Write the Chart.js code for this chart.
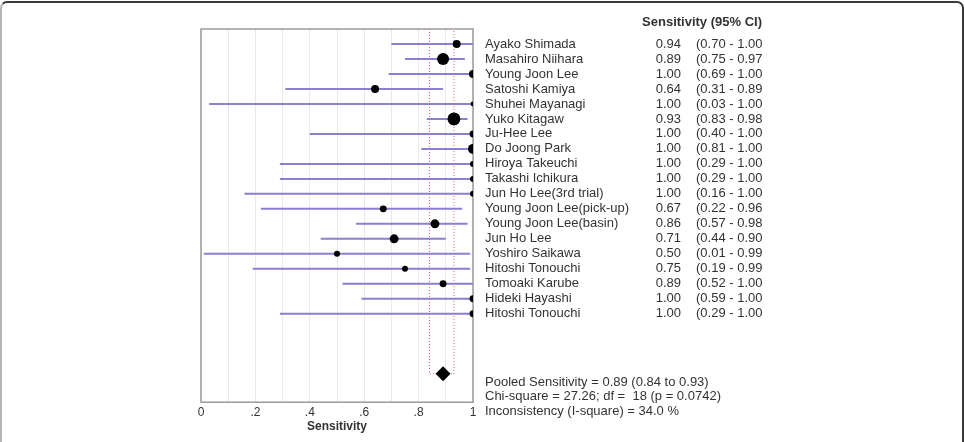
<!DOCTYPE html>
<html>
<head>
<meta charset="utf-8">
<script src="https://cdn.jsdelivr.net/npm/chart.js@4/dist/chart.umd.min.js"></script>
<style>
    html, body { margin: 0; padding: 0; background: #fff; overflow: hidden; }
    #wrap { position: relative; width: 965px; height: 442px; }
    #grafico { position: absolute; left: 0; top: 0; }
    #moldura {
        position: absolute; left: 0; top: 1px; width: 960px; height: 470px;
        border: 2px solid #3a3a3a; border-left-color: #b5b5b5; border-radius: 7px;
        pointer-events: none;
    }
</style>
</head>
<body>
<div id="wrap">
    <canvas id="grafico" width="965" height="442"></canvas>
    <div id="moldura"></div>
</div>
<script>
// Dados dos estudos
const estudos = ['Ayako Shimada', 'Masahiro Niihara', 'Young Joon Lee', 'Satoshi Kamiya', 'Shuhei Mayanagi',
    'Yuko Kitagaw', 'Ju-Hee Lee', 'Do Joong Park', 'Hiroya Takeuchi', 'Takashi Ichikura',
    'Jun Ho Lee(3rd trial)', 'Young Joon Lee(pick-up)', 'Young Joon Lee(basin)', 'Jun Ho Lee',
    'Yoshiro Saikawa', 'Hitoshi Tonouchi', 'Tomoaki Karube', 'Hideki Hayashi', 'Hitoshi Tonouchi'];
const sensibilidade = [0.94, 0.89, 1.00, 0.64, 1.00, 0.93, 1.00, 1.00, 1.00, 1.00, 1.00, 0.67, 0.86, 0.71, 0.50, 0.75, 0.89, 1.00, 1.00];
const icInferior = [0.70, 0.75, 0.69, 0.31, 0.03, 0.83, 0.40, 0.81, 0.29, 0.29, 0.16, 0.22, 0.57, 0.44, 0.01, 0.19, 0.52, 0.59, 0.29];
const icSuperior = [1.00, 0.97, 1.00, 0.89, 1.00, 0.98, 1.00, 1.00, 1.00, 1.00, 1.00, 0.96, 0.98, 0.90, 0.99, 0.99, 1.00, 1.00, 1.00];
// peso relativo de cada estudo (estimado pelo tamanho do marcador)
const pesos = [16, 36, 16, 16, 6, 42, 12, 25, 9, 9, 9, 12, 20, 20, 9, 9, 12, 12, 12];

const pooled = 0.89;
const pooledInf = 0.84;
const pooledSup = 0.93;
const linhaPooled = 22;
const textosPooled = [
    'Pooled Sensitivity = 0.89 (0.84 to 0.93)',
    'Chi-square = 27.26; df =  18 (p = 0.0742)',
    'Inconsistency (I-square) = 34.0 %'
];

// Função para formatar os ticks do eixo x
function formatarTick(v) {
    const d = Math.round(v * 10);
    if (d % 2 !== 0) return '';
    if (d === 0) return '0';
    if (d === 10) return '1';
    return '.' + d;
}

// Segmentos dos intervalos de confiança (quebrados com null)
const segmentos = [];
estudos.forEach((nome, i) => {
    segmentos.push({ x: icInferior[i], y: i });
    segmentos.push({ x: icSuperior[i], y: i });
    segmentos.push({ x: icSuperior[i], y: null });
});

const pontos = sensibilidade.map((s, i) => ({ x: s, y: i }));

const fonte = '"Liberation Sans", Arial, sans-serif';

// Plugin para moldura do gráfico e textos da direita
const textosPlugin = {
    id: 'textos',
    beforeDatasetsDraw(chart) {
        const { ctx, chartArea } = chart;
        ctx.save();
        ctx.strokeStyle = '#9a9a9a';
        ctx.lineWidth = 1.5;
        ctx.strokeRect(chartArea.left, chartArea.top, chartArea.right - chartArea.left, chartArea.bottom - chartArea.top);
        ctx.restore();
    },
    afterDraw(chart) {
        const { ctx } = chart;
        const y = chart.scales.y;
        ctx.save();
        ctx.fillStyle = '#333';
        ctx.textBaseline = 'middle';
        ctx.font = 'bold 13px ' + fonte;
        ctx.textAlign = 'right';
        ctx.fillText('Sensitivity (95% CI)', 762, 22);

        ctx.font = '13px ' + fonte;
        estudos.forEach((nome, i) => {
            const py = y.getPixelForValue(i);
            ctx.textAlign = 'left';
            ctx.fillText(nome, 485, py);
            ctx.textAlign = 'right';
            ctx.fillText(sensibilidade[i].toFixed(2), 681, py);
            ctx.textAlign = 'left';
            ctx.fillText('(' + icInferior[i].toFixed(2) + ' - ' + icSuperior[i].toFixed(2), 696, py);
        });

        ctx.textAlign = 'left';
        textosPooled.forEach((t, k) => {
            ctx.fillText(t, 485, 382 + k * 14.5);
        });
        ctx.restore();
    }
};

const ctx = document.getElementById('grafico').getContext('2d');
new Chart(ctx, {
    type: 'scatter',
    data: {
        datasets: [
            {
                label: 'IC pooled',
                data: [
                    { x: pooledInf, y: -1 }, { x: pooledInf, y: linhaPooled },
                    { x: pooledSup, y: linhaPooled }, { x: pooledSup, y: -1 }
                ],
                showLine: true,
                borderColor: '#dc5c78',
                borderWidth: 1,
                borderDash: [1, 2],
                pointRadius: 0,
                order: 3
            },
            {
                label: 'IC 95%',
                data: segmentos,
                showLine: true,
                spanGaps: false,
                borderColor: '#8a80d2',
                borderWidth: 2,
                pointRadius: 0,
                order: 2
            },
            {
                label: 'Sensibilidade',
                data: pontos,
                backgroundColor: '#000',
                borderColor: '#000',
                pointRadius: pesos.map(w => Math.sqrt(w)),
                borderWidth: 0,
                order: 1
            },
            {
                label: 'Pooled',
                data: [{ x: pooled, y: linhaPooled }],
                pointStyle: 'rectRot',
                backgroundColor: '#000',
                borderColor: '#000',
                pointRadius: 7.5,
                borderWidth: 0,
                order: 0
            }
        ]
    },
    options: {
        responsive: false,
        animation: false,
        layout: { padding: { left: 201, right: 492, top: 29, bottom: 0 } },
        plugins: { legend: { display: false }, tooltip: { enabled: false } },
        scales: {
            x: {
                type: 'linear',
                min: 0,
                max: 1,
                afterBuildTicks: axis => {
                    axis.ticks = [];
                    for (let k = 0; k <= 10; k++) axis.ticks.push({ value: k / 10 });
                },
                grid: { color: '#e8e8e8', drawTicks: false },
                border: { display: false },
                ticks: {
                    callback: v => formatarTick(v),
                    color: '#333',
                    padding: 3,
                    maxRotation: 0,
                    autoSkip: false,
                    font: { size: 12, family: fonte }
                },
                title: {
                    display: true,
                    text: 'Sensitivity',
                    color: '#333',
                    padding: { top: -3, bottom: 8 },
                    font: { size: 12, weight: 'bold', family: fonte }
                }
            },
            y: {
                type: 'linear',
                min: -1,
                max: 23.9,
                reverse: true,
                display: false
            }
        }
    },
    plugins: [textosPlugin]
});
</script>
</body>
</html>
